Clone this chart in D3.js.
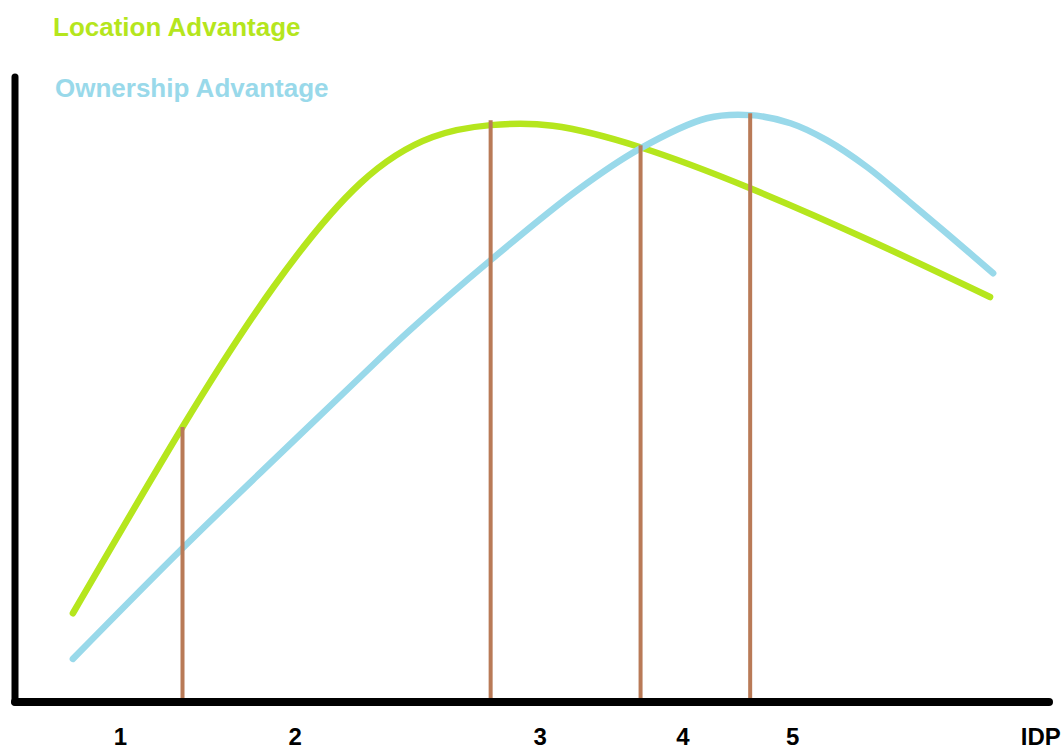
<!DOCTYPE html>
<meta charset="utf-8">
<script src="https://d3js.org/d3.v7.min.js"></script>
<style>
  body { margin: 0; background: #fff; }
  text { font-family: "Liberation Sans", Arial, sans-serif; font-weight: bold; }
</style>
<div id="my_dataviz"></div>
<script>
    // IDP stage level (0-100) and advantage strength (0-100)
    var locationX = [5.6, 16.2, 25.0, 33.4, 40.4, 46.0, 52.0, 60.4, 71.1, 83.0, 94.3];
    var locationY = [14.2, 44.0, 66.4, 83.0, 90.4, 92.3, 92.2, 88.8, 82.2, 73.6, 64.8];

    var ownershipX = [5.6, 16.2, 25.0, 33.4, 38.2, 46.0, 54.4, 60.4, 66.9, 71.1, 75.0, 78.5, 82.4, 86.3, 90.1, 94.6];
    var ownershipY = [6.9, 24.6, 38.7, 52.0, 59.5, 70.7, 81.9, 88.5, 93.4, 93.9, 92.6, 89.9, 85.6, 80.3, 75.0, 68.6];

    // stage boundaries and where they meet the curves
    var dividerX = [16.2, 46.0, 60.5, 71.1];
    var dividerTop = [44.0, 93.1, 89.1, 94.2];

    var stageLabels = ["1", "2", "3", "4", "5"];
    var stageLabelX = [10.2, 27.1, 50.8, 64.6, 75.2];

    var width = 1064, height = 749;

    var svg = d3.select("#my_dataviz")
      .append("svg")
        .attr("width", width)
        .attr("height", height);

    var x = d3.scaleLinear().domain([0, 100]).range([15, 1049]);
    var y = d3.scaleLinear().domain([0, 100]).range([702, 77]);

    function makeLine(curve) {
      return d3.line()
        .x(function(d) { return x(d[0]) })
        .y(function(d) { return y(d[1]) })
        .curve(curve);
    }

    // curves
    svg.append("path")
      .datum(d3.zip(locationX, locationY))
      .attr("fill", "none")
      .attr("stroke", "#B5E61D")
      .attr("stroke-width", 6.5)
      .attr("stroke-linecap", "round")
      .attr("d", makeLine(d3.curveNatural));

    svg.append("path")
      .datum(d3.zip(ownershipX, ownershipY))
      .attr("fill", "none")
      .attr("stroke", "#99D9EA")
      .attr("stroke-width", 6.5)
      .attr("stroke-linecap", "round")
      .attr("d", makeLine(d3.curveCatmullRom.alpha(0.5)));

    // stage dividers
    svg.append("g")
      .selectAll("line")
      .data(d3.zip(dividerX, dividerTop))
      .enter()
      .append("line")
        .attr("x1", function(d) { return x(d[0]) })
        .attr("x2", function(d) { return x(d[0]) })
        .attr("y1", function(d) { return y(d[1]) })
        .attr("y2", y(0))
        .attr("stroke", "#B97A57")
        .attr("stroke-width", 4);

    // axes
    svg.append("line")
      .attr("x1", x(0)).attr("x2", x(0))
      .attr("y1", y(100)).attr("y2", y(0))
      .attr("stroke", "#000").attr("stroke-width", 7).attr("stroke-linecap", "round");
    svg.append("line")
      .attr("x1", x(0)).attr("x2", x(100))
      .attr("y1", y(0)).attr("y2", y(0))
      .attr("stroke", "#000").attr("stroke-width", 8).attr("stroke-linecap", "round");

    // stage numbers
    svg.append("g")
      .selectAll("text")
      .data(stageLabels)
      .enter()
      .append("text")
        .attr("x", function(d, i) { return x(stageLabelX[i]) })
        .attr("y", 745)
        .attr("text-anchor", "middle")
        .style("font-size", "24px")
        .attr("fill", "#000")
        .text(function(d) { return d });

    svg.append("text")
      .attr("x", x(99.2))
      .attr("y", 745)
      .attr("text-anchor", "middle")
      .style("font-size", "24px")
      .attr("fill", "#000")
      .text("IDP");

    // legend
    svg.append("text")
      .attr("x", 53).attr("y", 36)
      .style("font-size", "26px")
      .attr("fill", "#B5E61D")
      .text("Location Advantage");
    svg.append("text")
      .attr("x", 55).attr("y", 97)
      .style("font-size", "26px")
      .attr("fill", "#99D9EA")
      .text("Ownership Advantage");
</script>
